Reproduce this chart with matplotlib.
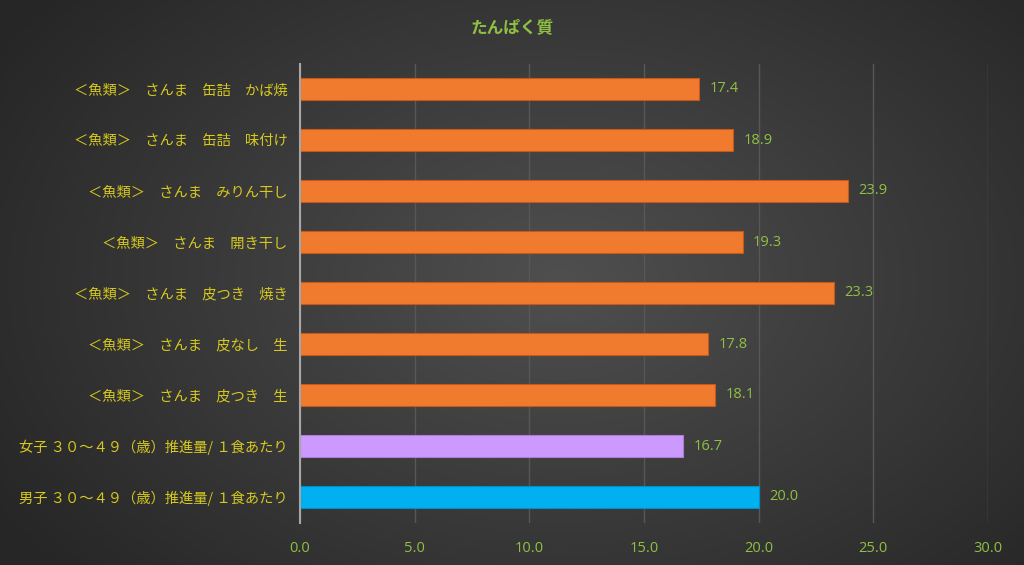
import matplotlib
matplotlib.use("Agg")
import matplotlib.pyplot as plt
import numpy as np

plt.rcParams['font.family'] = ['Noto Sans CJK JP', 'DejaVu Sans']

# data, top to bottom as shown in the chart
labels = [
    "＜魚類＞　さんま　缶詰　かば焼",
    "＜魚類＞　さんま　缶詰　味付け",
    "＜魚類＞　さんま　みりん干し",
    "＜魚類＞　さんま　開き干し",
    "＜魚類＞　さんま　皮つき　焼き",
    "＜魚類＞　さんま　皮なし　生",
    "＜魚類＞　さんま　皮つき　生",
    "女子 ３０～４９（歳）推進量/ １食あたり",
    "男子 ３０～４９（歳）推進量/ １食あたり",
]
values = [17.4, 18.9, 23.9, 19.3, 23.3, 17.8, 18.1, 16.7, 20.0]
colors = ["#f07b2e"] * 7 + ["#cc99ff", "#00b0f0"]
edges = ["#c8581a"] * 7 + ["#a97fd6", "#0090c8"]
xticks = [0, 5, 10, 15, 20, 25, 30]

fig = plt.figure(figsize=(10.24, 5.65), dpi=100)

# radial gradient background
bg = fig.add_axes([0, 0, 1, 1])
yy, xx = np.mgrid[0:565, 0:1024]
r = np.sqrt(((xx - 560) / 620.0) ** 2 + ((yy - 280) / 420.0) ** 2)
shade = np.clip(0.31 - 0.15 * r, 0.15, 0.31)
bg.imshow(np.dstack([shade, shade, shade]), aspect='auto', extent=[0, 1, 0, 1])
bg.axis('off')

ax = fig.add_axes([300 / 1024, 1 - 522.5 / 565, 688 / 1024, 459 / 565])
ax.patch.set_alpha(0)

n = len(values)
ypos = np.arange(n)[::-1]
ax.barh(ypos, values, height=0.45, color=colors, edgecolor=edges, linewidth=0.8, zorder=3)

for y, v in zip(ypos, values):
    ax.text(v + 0.45, y, "%.1f" % v, va='center', ha='left', color="#8fc043",
            fontsize=10.5, family=['Open Sans', 'DejaVu Sans'], zorder=4)

ax.set_xlim(0, 30)
ax.set_ylim(-0.5, n - 0.5)
ax.set_xticks(xticks)
ax.set_xticklabels(["%.1f" % t for t in xticks], color="#8fc043",
                   fontsize=10.5, family=['Open Sans', 'DejaVu Sans'])
ax.tick_params(axis='both', length=0)
ax.tick_params(axis='x', pad=13)
ax.set_yticks(ypos)
ax.set_yticklabels(labels, color="#d6c91e", fontsize=10.3)
ax.tick_params(axis='y', pad=9)

ax.grid(axis='x', color="#575757", linewidth=1.0, zorder=0)
for s in ['top', 'right', 'bottom']:
    ax.spines[s].set_visible(False)
ax.spines['left'].set_color("#a6a6a6")
ax.spines['left'].set_linewidth(1.5)
ax.spines['left'].set_zorder(5)

fig.text(512 / 1024, 1 - 27 / 565, "たんぱく質", ha='center', va='center',
         color="#8fc043", fontsize=12, fontweight='bold')

fig.savefig("out.png", dpi=100)
